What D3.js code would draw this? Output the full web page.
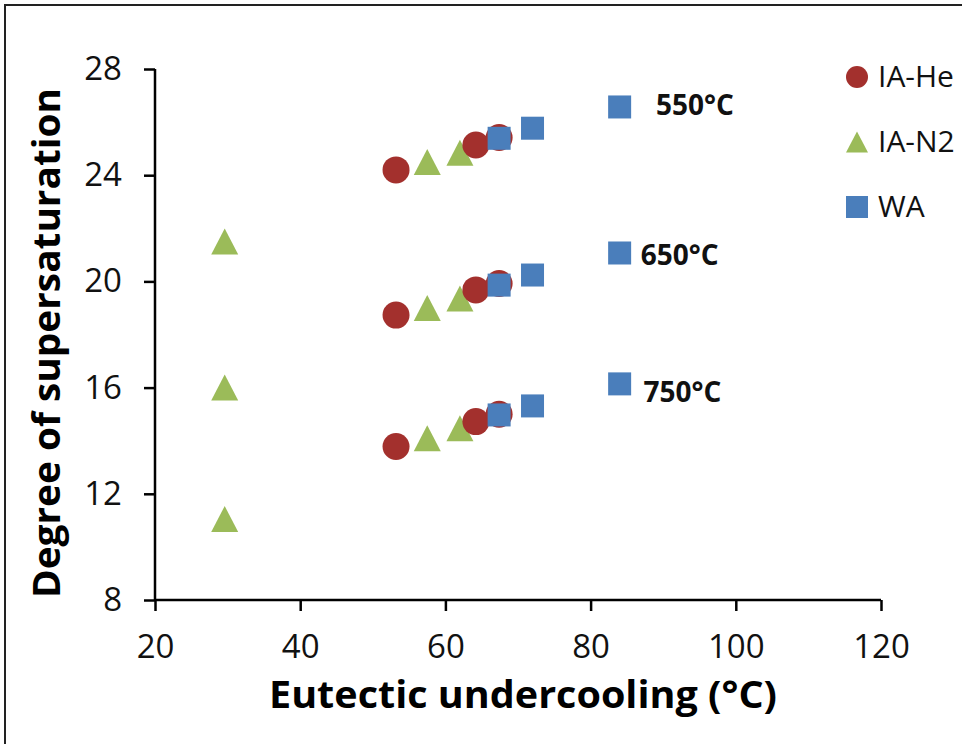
<!DOCTYPE html>
<html lang="en">
<head>
  <meta charset="UTF-8" />
  <title>Degree of supersaturation</title>
  <style>
    body { margin: 0; background: #fff; }
    svg { display: block; font-family: "Open Sans", Arial, sans-serif; }
    .tick text { fill: #111; }
  </style>
</head>
<body>
  <div id="chart"></div>

  <script src="https://cdnjs.cloudflare.com/ajax/libs/d3/7.8.4/d3.min.js"></script>
  <script>
    const width = 962, height = 744;

    // series values
    const heX = [53.2, 64.2, 67.4, 53.2, 64.2, 67.4, 53.2, 64.2, 67.4];
    const heY = [24.2, 25.14, 25.42, 18.73, 19.68, 19.92, 13.78, 14.72, 15.0];
    const n2X = [29.6, 57.5, 62.0, 29.6, 57.5, 62.0, 29.6, 57.5, 62.0];
    const n2Y = [21.5, 24.5, 24.85, 16.0, 19.0, 19.36, 11.05, 14.09, 14.47];
    const waX = [67.4, 72.0, 84.0, 67.4, 72.0, 84.0, 67.4, 72.0, 84.0];
    const waY = [25.39, 25.77, 26.57, 19.86, 20.24, 21.07, 14.97, 15.31, 16.14];

    const seriesNames = ["IA-He", "IA-N2", "WA"];
    const xTicks = [20, 40, 60, 80, 100, 120];
    const yTicks = [8, 12, 16, 20, 24, 28];

    // temperature annotations (anchored in data units)
    const tempLabels = ["550°C", "650°C", "750°C"];
    const tempX = [89.0, 86.9, 87.3];
    const tempY = [26.27, 20.62, 15.46];

    const colors = { "IA-He": "#A3302D", "IA-N2": "#9BBB59", "WA": "#4A7EBB" };

    const x = d3.scaleLinear().domain([20, 120]).range([155, 881]);
    const y = d3.scaleLinear().domain([8, 28]).range([600, 69]);

    const svg = d3.select("#chart").append("svg")
      .attr("width", width).attr("height", height);

    // outer frame
    svg.append("rect")
      .attr("x", 5).attr("y", 5).attr("width", 1000).attr("height", 1000)
      .attr("fill", "none").attr("stroke", "#222").attr("stroke-width", 2);

    // axes
    const xAxis = svg.append("g")
      .attr("transform", `translate(0,${y(8)})`)
      .call(d3.axisBottom(x).tickValues(xTicks).tickSize(11).tickPadding(24));
    const yAxis = svg.append("g")
      .attr("transform", `translate(${x(20)},0)`)
      .call(d3.axisLeft(y).tickValues(yTicks).tickSize(11).tickPadding(22));

    [xAxis, yAxis].forEach(g => {
      g.select(".domain").attr("stroke", "#000").attr("stroke-width", 2.5);
      g.selectAll(".tick line").attr("stroke", "#000").attr("stroke-width", 2.5);
      g.selectAll(".tick text").attr("font-size", 33).attr("font-family", "Open Sans");
    });
    // plain axis lines without the end caps
    xAxis.select(".domain").attr("d", `M${x(20)},0H${x(120)}`);
    yAxis.select(".domain").attr("d", `M0,${y(8)}V${y(28)}`);

    // axis titles
    svg.append("text")
      .attr("x", (x(20) + x(120)) / 2 + 5).attr("y", 708)
      .attr("text-anchor", "middle")
      .attr("font-size", 38).attr("font-weight", "bold")
      .attr("textLength", 508).attr("lengthAdjust", "spacingAndGlyphs")
      .text("Eutectic undercooling (°C)");

    svg.append("text")
      .attr("transform", "translate(60,343) rotate(-90)")
      .attr("text-anchor", "middle")
      .attr("font-size", 38).attr("font-weight", "bold")
      .attr("textLength", 510).attr("lengthAdjust", "spacingAndGlyphs")
      .text("Degree of supersaturation");

    const tri = (cx, cy, w, h) =>
      `M${cx},${cy - h / 2}L${cx + w / 2},${cy + h / 2}L${cx - w / 2},${cy + h / 2}Z`;

    // IA-N2 triangles
    svg.append("g").selectAll("path")
      .data(d3.zip(n2X, n2Y))
      .join("path")
      .attr("d", d => tri(x(d[0]), y(d[1]), 27, 26))
      .attr("fill", colors["IA-N2"]);

    // IA-He circles
    svg.append("g").selectAll("circle")
      .data(d3.zip(heX, heY))
      .join("circle")
      .attr("cx", d => x(d[0])).attr("cy", d => y(d[1]))
      .attr("r", 13.5)
      .attr("fill", colors["IA-He"]);

    // WA squares
    svg.append("g").selectAll("rect")
      .data(d3.zip(waX, waY))
      .join("rect")
      .attr("x", d => x(d[0]) - 11.5).attr("y", d => y(d[1]) - 11.5)
      .attr("width", 23).attr("height", 23)
      .attr("fill", colors["WA"]);

    // temperature labels
    svg.append("g").selectAll("text")
      .data(tempLabels)
      .join("text")
      .attr("x", (d, i) => x(tempX[i]))
      .attr("y", (d, i) => y(tempY[i]))
      .attr("font-size", 28).attr("font-weight", "bold")
      .attr("fill", "#111")
      .text(d => d);

    // legend
    const legend = svg.append("g").attr("transform", "translate(857,77)");
    seriesNames.forEach((name, i) => {
      const g = legend.append("g").attr("transform", `translate(0,${i * 65})`);
      if (name === "IA-He") g.append("circle").attr("r", 11).attr("fill", colors[name]);
      if (name === "IA-N2") g.append("path").attr("d", tri(0, 0, 22, 21)).attr("fill", colors[name]);
      if (name === "WA") g.append("rect").attr("x", -11).attr("y", -11).attr("width", 22).attr("height", 22).attr("fill", colors[name]);
      g.append("text")
        .attr("x", 21).attr("y", 10)
        .attr("font-size", 30).attr("fill", "#111")
        .text(name);
    });
  </script>
</body>
</html>
